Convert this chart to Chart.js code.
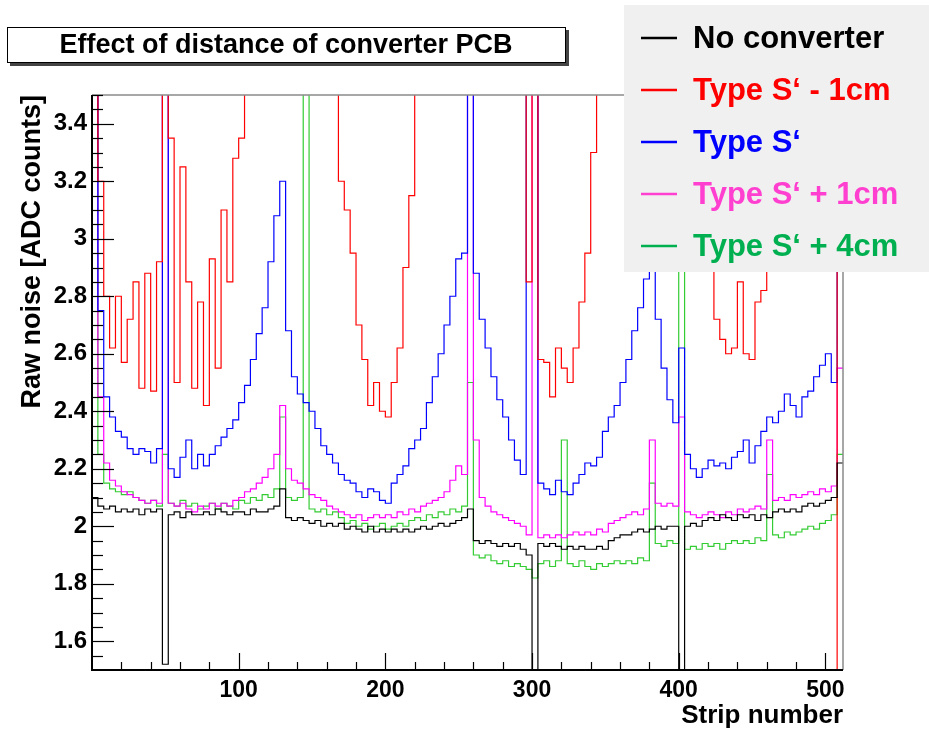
<!DOCTYPE html>
<html lang="en">
<head>
<meta charset="UTF-8">
<title>Effect of distance of converter PCB</title>
<script src="https://cdn.jsdelivr.net/npm/chart.js"></script>
<style>
  html, body { margin: 0; padding: 0; background: #fff; }
  #wrap { width: 929px; height: 731px; }
</style>
</head>
<body>
<div id="wrap"><canvas id="noiseChart" width="929" height="731"></canvas></div>
<script>
  // each value covers 4 strips, starting at strip 0
  const binWidth = 4;
  const seriesNames = ['No converter', 'Type S\u2018 - 1cm', 'Type S\u2018', 'Type S\u2018 + 1cm', 'Type S\u2018 + 4cm'];

  const noConverter = [
    2.10, 2.07, 2.06, 2.07, 2.05, 2.06, 2.05, 2.06, 2.04, 2.06, 2.05, 2.06, 1.52, 2.04, 2.05, 2.03,
    2.05, 2.04, 2.04, 2.05, 2.04, 2.06, 2.05, 2.04, 2.05, 2.05, 2.04, 2.06, 2.05, 2.05, 2.06, 2.07,
    2.13, 2.03, 2.02, 2.03, 2.02, 2.01, 2.02, 2.00, 2.01, 2.00, 2.01, 1.99, 2.00, 1.99, 1.98, 2.00,
    1.98, 1.99, 1.98, 1.99, 1.98, 1.99, 1.98, 1.99, 2.00, 1.99, 2.00, 2.01, 2.00, 2.01, 2.02, 2.03,
    2.06, 1.95, 1.94, 1.95, 1.94, 1.93, 1.94, 1.93, 1.94, 1.92, 1.90, 1.40, 1.94, 1.93, 1.94, 1.93,
    1.92, 1.93, 1.92, 1.93, 1.92, 1.92, 1.93, 1.92, 1.95, 1.96, 1.97, 1.97, 1.98, 1.99, 1.98, 1.99,
    2.00, 1.99, 2.00, 2.00, 1.40, 2.00, 2.01, 2.00, 2.02, 2.03, 2.02, 2.04, 2.03, 2.02, 2.04, 2.03,
    2.04, 2.02, 2.04, 2.03, 2.05, 2.06, 2.05, 2.06, 2.05, 2.07, 2.08, 2.07, 2.08, 2.09, 2.10, 2.22
  ];
  const typeSminus1 = [
    3.60, 3.20, 2.80, 2.62, 2.80, 2.57, 2.72, 2.85, 2.48, 2.88, 2.47, 2.92, 3.60, 3.35, 2.50, 3.25,
    2.85, 2.48, 2.78, 2.42, 2.93, 2.55, 3.10, 2.85, 3.28, 3.35, 3.70, 3.70, 3.70, 3.70, 3.70, 3.70,
    3.70, 3.70, 3.70, 3.70, 3.70, 3.70, 3.70, 3.70, 3.70, 3.60, 3.20, 3.10, 2.95, 2.70, 2.58, 2.42,
    2.50, 2.40, 2.38, 2.50, 2.62, 2.90, 3.15, 3.70, 3.70, 3.70, 3.70, 3.70, 3.70, 3.70, 3.70, 3.70,
    3.70, 3.70, 3.70, 3.70, 3.70, 3.70, 3.70, 3.70, 3.70, 3.70, 2.85, 3.60, 2.58, 2.57, 2.45, 2.62,
    2.55, 2.50, 2.62, 2.78, 2.95, 3.30, 3.70, 3.70, 3.70, 3.70, 3.70, 3.70, 3.70, 3.70, 3.70, 3.70,
    3.70, 3.70, 3.70, 3.70, 3.70, 3.70, 3.70, 3.70, 3.70, 3.70, 2.72, 2.65, 2.60, 2.62, 2.85, 2.60,
    2.58, 2.78, 2.82, 3.70, 3.70, 3.70, 3.70, 3.70, 3.70, 3.70, 3.70, 3.70, 3.70, 3.70, 3.70, 1.40
  ];
  const typeS = [
    3.60, 2.75, 2.45, 2.38, 2.33, 2.31, 2.27, 2.25, 2.27, 2.26, 2.22, 2.27, 3.60, 2.20, 2.17, 2.24,
    2.30, 2.20, 2.25, 2.21, 2.25, 2.28, 2.31, 2.34, 2.37, 2.43, 2.49, 2.58, 2.67, 2.76, 2.92, 3.08,
    3.20, 2.68, 2.52, 2.46, 2.43, 2.40, 2.34, 2.28, 2.25, 2.22, 2.18, 2.16, 2.15, 2.12, 2.10, 2.13,
    2.12, 2.09, 2.08, 2.15, 2.18, 2.21, 2.27, 2.30, 2.34, 2.43, 2.52, 2.60, 2.70, 2.80, 2.93, 2.95,
    3.60, 2.88, 2.72, 2.62, 2.52, 2.44, 2.38, 2.30, 2.23, 2.18, 3.60, 3.60, 2.15, 2.13, 2.11, 2.16,
    2.12, 2.11, 2.15, 2.18, 2.22, 2.21, 2.24, 2.33, 2.38, 2.42, 2.50, 2.58, 2.68, 2.76, 2.86, 2.91,
    2.72, 2.55, 2.44, 2.36, 2.62, 2.25, 2.20, 2.17, 2.20, 2.23, 2.21, 2.22, 2.20, 2.24, 2.26, 2.30,
    2.22, 2.28, 2.33, 2.38, 2.36, 2.40, 2.46, 2.42, 2.38, 2.45, 2.47, 2.52, 2.56, 2.60, 2.50, 3.60
  ];
  const typeSplus1 = [
    3.60, 2.45, 2.22, 2.16, 2.14, 2.12, 2.11, 2.10, 2.09, 2.08, 2.09, 2.08, 3.60, 2.08, 2.07, 2.08,
    2.06, 2.05, 2.07, 2.06, 2.08, 2.07, 2.08, 2.07, 2.09, 2.10, 2.12, 2.13, 2.15, 2.17, 2.20, 2.25,
    2.42, 2.20, 2.16, 2.15, 2.13, 2.11, 2.10, 2.09, 2.07, 2.06, 2.05, 2.04, 2.03, 2.04, 2.02, 2.03,
    2.04, 2.03, 2.04, 2.03, 2.05, 2.04, 2.06, 2.05, 2.07, 2.08, 2.09, 2.10, 2.12, 2.16, 2.21, 2.18,
    3.60, 2.30, 2.10, 2.07, 2.05, 2.04, 2.03, 2.02, 2.01, 2.00, 1.97, 3.60, 1.96, 1.97, 1.96, 1.97,
    1.96, 1.97, 1.98, 1.97, 1.98, 1.97, 1.99, 1.98, 2.01, 2.02, 2.03, 2.04, 2.05, 2.04, 2.06, 2.30,
    2.08, 2.07, 2.08, 2.07, 2.38, 2.05, 2.04, 2.03, 2.04, 2.05, 2.04, 2.03, 2.05, 2.04, 2.06, 2.05,
    2.06, 2.07, 2.06, 2.30, 2.09, 2.10, 2.09, 2.11, 2.10, 2.11, 2.12, 2.11, 2.13, 2.12, 2.14, 2.55
  ];
  const typeSplus4 = [
    3.60, 2.25, 2.15, 2.13, 2.12, 2.11, 2.12, 2.10, 2.09, 2.08, 2.09, 2.07, 2.25, 2.08, 2.07, 2.09,
    2.07, 2.08, 2.06, 2.07, 2.08, 2.06, 2.08, 2.07, 2.06, 2.09, 2.08, 2.10, 2.09, 2.11, 2.10, 2.13,
    2.38, 2.10, 2.09, 2.10, 3.60, 2.06, 2.05, 2.06, 2.04, 2.05, 2.03, 2.01, 2.02, 2.00, 2.01, 1.99,
    2.00, 2.01, 1.99, 2.00, 2.01, 2.00, 2.02, 2.03, 2.02, 2.04, 2.03, 2.05, 2.04, 2.06, 2.05, 2.07,
    2.50, 1.90, 1.89, 1.90, 1.88, 1.87, 1.88, 1.86, 1.87, 1.86, 1.85, 1.82, 1.87, 1.88, 1.86, 1.88,
    2.30, 1.87, 1.86, 1.88, 1.86, 1.85, 1.87, 1.86, 1.87, 1.88, 1.87, 1.88, 1.87, 1.89, 1.88, 2.15,
    1.94, 1.93, 1.95, 1.94, 3.60, 1.92, 1.93, 1.92, 1.94, 1.93, 1.94, 1.92, 1.94, 1.95, 1.94, 1.95,
    1.94, 1.96, 1.95, 2.18, 1.97, 1.96, 1.98, 1.97, 1.98, 1.99, 2.00, 1.99, 2.01, 2.02, 2.04, 2.25
  ];

  const xTickValues = [100, 200, 300, 400, 500];
  const yTickValues = [1.6, 1.8, 2, 2.2, 2.4, 2.6, 2.8, 3, 3.2, 3.4];

  const lineColors = ['#000000', '#ff0000', '#0000ff', '#ff00ff', '#33cc33'];
  const legendColors = ['#000000', '#ff0000', '#0000ff', '#ff3fcf', '#00b050'];

  const fontFamily = "'Liberation Sans', Arial, Helvetica, sans-serif";

  // histogram outline: one point per bin lower edge + closing point at the last edge
  function toSteps(values) {
    const pts = values.map((v, i) => ({ x: i * binWidth, y: v }));
    pts.push({ x: values.length * binWidth, y: values[values.length - 1] });
    return pts;
  }

  const allSeries = [noConverter, typeSminus1, typeS, typeSplus1, typeSplus4];

  // frame, inward ticks, title box and legend box, ROOT style
  const rootDecor = {
    id: 'rootDecor',
    afterDraw(chart) {
      const ctx = chart.ctx;
      const area = chart.chartArea;
      const xs = chart.scales.x, ys = chart.scales.y;
      ctx.save();

      // frame
      ctx.strokeStyle = '#8a8a8a';
      ctx.lineWidth = 1.5;
      ctx.beginPath();
      ctx.moveTo(area.left, area.top); ctx.lineTo(area.right, area.top); ctx.lineTo(area.right, area.bottom);
      ctx.stroke();
      ctx.strokeStyle = '#000';
      ctx.lineWidth = 2;
      ctx.beginPath();
      ctx.moveTo(area.left, area.top); ctx.lineTo(area.left, area.bottom); ctx.lineTo(area.right, area.bottom);
      ctx.stroke();

      // y ticks
      ctx.lineWidth = 1.2;
      for (let v = 1.55; v < 3.5; v += 0.05) {
        const y = Math.round(ys.getPixelForValue(v)) + 0.5;
        const major = yTickValues.some(t => Math.abs(t - v) < 1e-6);
        ctx.beginPath();
        ctx.moveTo(area.left, y); ctx.lineTo(area.left + (major ? 22 : 11), y);
        ctx.stroke();
      }
      // x ticks
      for (let s = 20; s < 512; s += 20) {
        const x = Math.round(xs.getPixelForValue(s)) + 0.5;
        const major = xTickValues.includes(s);
        ctx.beginPath();
        ctx.moveTo(x, area.bottom); ctx.lineTo(x, area.bottom - (major ? 17 : 8));
        ctx.stroke();
      }

      // title box
      ctx.fillStyle = '#444';
      ctx.fillRect(10, 30, 559, 36);
      ctx.fillStyle = '#fff';
      ctx.fillRect(7, 27, 559, 36);
      ctx.strokeStyle = '#000';
      ctx.lineWidth = 1;
      ctx.strokeRect(7.5, 27.5, 558, 35);
      ctx.fillStyle = '#000';
      ctx.font = 'bold 27px ' + fontFamily;
      ctx.textAlign = 'center';
      ctx.textBaseline = 'middle';
      ctx.fillText('Effect of distance of converter PCB', 286, 46);

      // legend
      ctx.fillStyle = '#f0f0f0';
      ctx.fillRect(624, 5, 305, 267);
      ctx.font = 'bold 31px ' + fontFamily;
      ctx.textAlign = 'left';
      chart.data.datasets.forEach((ds, i) => {
        const y = 38 + i * 52;
        ctx.strokeStyle = legendColors[i];
        ctx.lineWidth = 2.5;
        ctx.beginPath();
        ctx.moveTo(641, y); ctx.lineTo(677, y);
        ctx.stroke();
        ctx.fillStyle = legendColors[i];
        ctx.fillText(ds.label, 693, y + 1);
      });
      ctx.restore();
    }
  };

  const ctx = document.getElementById('noiseChart').getContext('2d');
  new Chart(ctx, {
    type: 'line',
    data: {
      datasets: allSeries.map((vals, i) => ({
        label: seriesNames[i],
        data: toSteps(vals),
        borderColor: lineColors[i],
        borderWidth: 1.2,
        stepped: 'before',
        pointRadius: 0,
        fill: false
      }))
    },
    options: {
      responsive: false,
      animation: false,
      devicePixelRatio: 1,
      layout: { padding: { top: 95, right: 86, left: 0, bottom: 0 } },
      plugins: {
        legend: { display: false },
        tooltip: { enabled: false }
      },
      scales: {
        x: {
          type: 'linear',
          min: 0,
          max: 512,
          afterFit(scale) { scale.height = 61; },
          afterBuildTicks(scale) { scale.ticks = xTickValues.map(v => ({ value: v })); },
          grid: { display: false, drawTicks: false },
          border: { display: false },
          ticks: {
            color: '#000',
            padding: 7,
            maxRotation: 0,
            font: { family: fontFamily, size: 23, weight: 'bold' }
          },
          title: {
            display: true,
            text: 'Strip number',
            align: 'end',
            color: '#000',
            padding: { top: 0, bottom: 0 },
            font: { family: fontFamily, size: 26, weight: 'bold' }
          }
        },
        y: {
          min: 1.5,
          max: 3.5,
          afterFit(scale) { scale.width = 92; },
          afterBuildTicks(scale) { scale.ticks = yTickValues.map(v => ({ value: v })); },
          grid: { display: false, drawTicks: false },
          border: { display: false },
          ticks: {
            color: '#000',
            padding: 5,
            font: { family: fontFamily, size: 24, weight: 'bold' },
            callback: v => String(v)
          },
          title: {
            display: true,
            text: 'Raw noise [ADC counts]',
            align: 'end',
            color: '#000',
            padding: { top: 16, bottom: 0 },
            font: { family: fontFamily, size: 27, weight: 'bold' }
          }
        }
      }
    },
    plugins: [rootDecor]
  });
</script>
</body>
</html>
